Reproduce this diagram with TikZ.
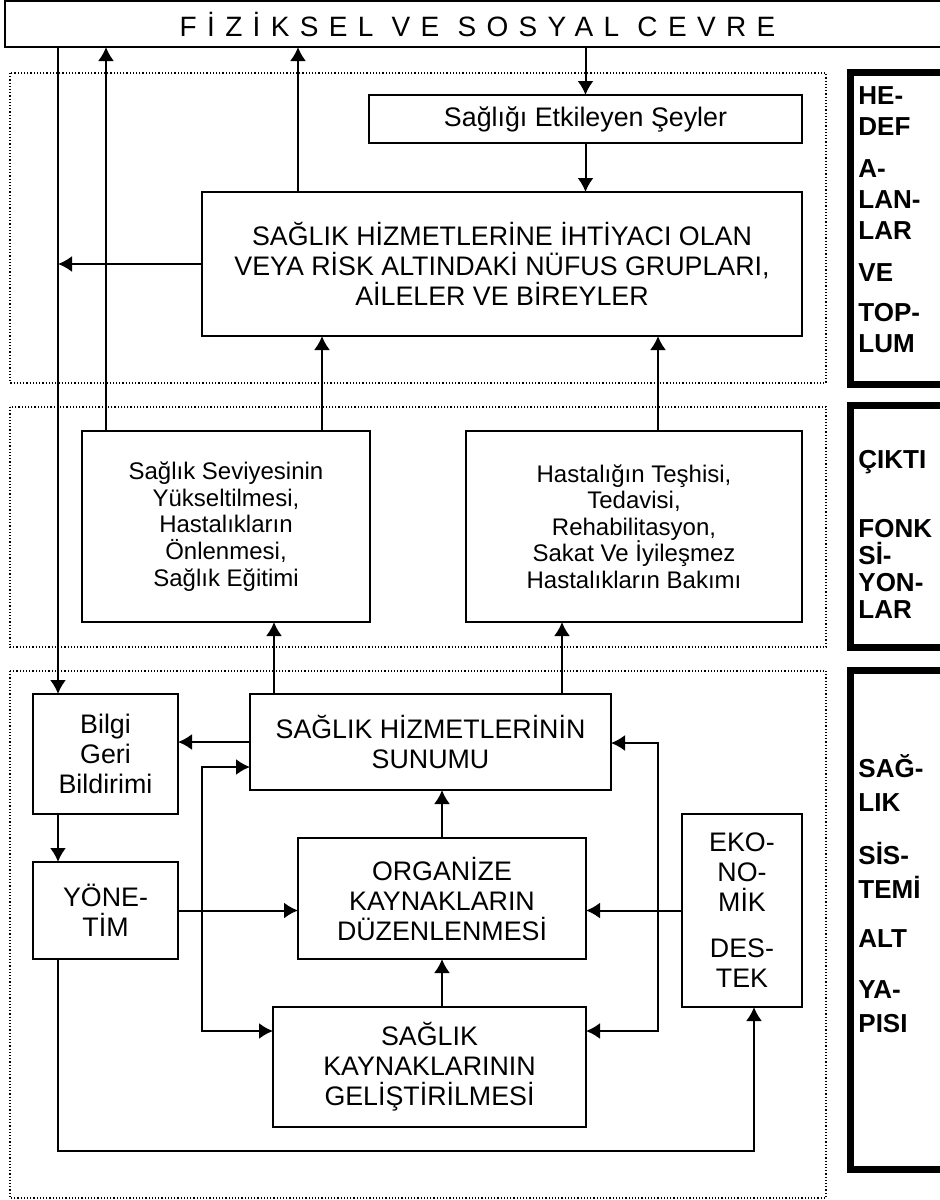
\documentclass[tikz,border=0pt]{standalone}
\usepackage{fontspec}
\setmainfont{Liberation Sans}
\newfontfamily\genis[LetterSpace=37]{Liberation Sans}
\usetikzlibrary{arrows.meta}

\tikzset{
  kutu/.style={draw, line width=1pt, inner sep=0pt, outer sep=0pt, align=center,
    font=\fontsize{13.4}{15}\selectfont},
  kucuk/.style={font=\fontsize{12}{13.3}\selectfont},
  ok/.style={line width=1pt, -{Latex[length=7pt,width=8pt]}},
  cift/.style={line width=1pt, {Latex[length=7pt,width=8pt]}-{Latex[length=7pt,width=8pt]}},
  bolge/.style={densely dotted, line width=0.6pt},
  etiket/.style={line width=3.5pt},
  yan/.style={anchor=north west, inner sep=0pt, align=left}
}

\begin{document}
\begin{tikzpicture}[x=0.5pt, y=-0.5pt]
\useasboundingbox (0,0) rectangle (940,1200);

\foreach \ust/\alt in {73/383, 407/647, 671/1198}
{
    \draw[bolge] (10,\ust) rectangle (826,\alt);
}
\foreach \ust/\alt in {72/384, 405/647, 670/1169}
{
    \draw[etiket] (850,\ust) rectangle (970,\alt);
}

\node[yan, font=\bfseries\fontsize{13}{15.5}\selectfont] (hedef) at (858,86)
  {HE-\\DEF\\[5.5pt]A-\\LAN-\\LAR\\[5.5pt]VE\\[4.5pt]TOP-\\LUM};
\node[yan, font=\bfseries\fontsize{13}{13.5}\selectfont] (cikti) at (858,450)
  {ÇIKTI\\[21pt]FONK\\Sİ-\\YON-\\LAR};
\node[yan, font=\bfseries\fontsize{13}{17}\selectfont] (altyapi) at (858,754)
  {SAĞ-\\LIK\\[9.5pt]SİS-\\TEMİ\\[7.5pt]ALT\\[8.5pt]YA-\\PISI};

\node[kutu, minimum width=472.5pt, minimum height=23pt] (cevre) at (477.5,24)
  {\genis\fontsize{14}{15}\selectfont FİZİKSEL VE SOSYAL CEVRE};
\node[kutu, minimum width=216.5pt, minimum height=24pt] (sag) at (585.5,119)
  {Sağlığı Etkileyen Şeyler};
\node[kutu, minimum width=300pt, minimum height=72pt] (nufus) at (502,264)
  {SAĞLIK HİZMETLERİNE İHTİYACI OLAN\\VEYA RİSK ALTINDAKİ NÜFUS GRUPLARI,\\AİLELER VE BİREYLER};
\node[kutu, kucuk, minimum width=144pt, minimum height=95.5pt] (seviye) at (226,526.5)
  {Sağlık Seviyesinin\\Yükseltilmesi,\\Hastalıkların\\Önlenmesi,\\Sağlık Eğitimi};
\node[kutu, kucuk, minimum width=168pt, minimum height=95.5pt] (teshis) at (634,526.5)
  {Hastalığın Teşhisi,\\Tedavisi,\\Rehabilitasyon,\\Sakat Ve İyileşmez\\Hastalıkların Bakımı};
\node[kutu, minimum width=72.5pt, minimum height=60pt] (bilgi) at (105.5,754)
  {Bilgi\\Geri\\Bildirimi};
\node[kutu, minimum width=180.5pt, minimum height=48pt] (sunum) at (430.5,742)
  {SAĞLIK HİZMETLERİNİN\\SUNUMU};
\node[kutu, minimum width=72.5pt, minimum height=48.5pt] (yonetim) at (105.5,910.5)
  {YÖNE-\\TİM};
\node[kutu, minimum width=144pt, minimum height=60.5pt] (organize) at (442,898.5)
  {ORGANİZE\\KAYNAKLARIN\\DÜZENLENMESİ};
\node[kutu, minimum width=60pt, minimum height=96.5pt] (ekonomi) at (742,910.5)
  {EKO-\\NO-\\MİK\\[8pt]DES-\\TEK};
\node[kutu, minimum width=156.5pt, minimum height=60pt] (gelis) at (429.5,1067)
  {SAĞLIK\\KAYNAKLARININ\\GELİŞTİRİLMESİ};

\coordinate (hA) at (58,0);
\coordinate (hB) at (106,0);
\coordinate (hC) at (298,0);
\coordinate (hD) at (322,0);
\coordinate (hE) at (658,0);
\coordinate (hF) at (274,0);
\coordinate (hG) at (562,0);
\coordinate (solUst) at (202,767);
\coordinate (solAlt) at (202,1031);
\coordinate (sagUst) at (658,743);
\coordinate (sagAlt) at (658,1031);
\coordinate (altSol) at (58,1151);
\coordinate (altSag) at (754,1151);

\draw[ok] (sag.north |- cevre.south) -- (sag.north);
\draw[ok] (sag.south) -- (sag.south |- nufus.north);
\draw[ok] (nufus.north -| hC) -- (cevre.south -| hC);
\draw[ok] (nufus.west) -- (nufus.west -| hA);
\draw[ok] (cevre.south -| hA) -- (bilgi.north -| hA);
\draw[ok] (seviye.north -| hB) -- (cevre.south -| hB);
\draw[ok] (seviye.north -| hD) -- (nufus.south -| hD);
\draw[ok] (teshis.north -| hE) -- (nufus.south -| hE);
\draw[ok] (sunum.north -| hF) -- (seviye.south -| hF);
\draw[ok] (sunum.north -| hG) -- (teshis.south -| hG);
\draw[ok] (sunum.west) -- (bilgi.east |- sunum.west);
\draw[ok] (bilgi.south -| hA) -- (yonetim.north -| hA);
\draw[ok] (yonetim.east) -- (organize.west |- yonetim.east);
\draw[ok] (ekonomi.west) -- (organize.east |- ekonomi.west);
\draw[ok] (organize.north) -- (sunum.south -| organize.north);
\draw[ok] (gelis.north -| organize.south) -- (organize.south);
\draw[cift] (sunum.west |- solUst) -- (solUst) -- (solAlt) -- (gelis.west |- solAlt);
\draw[cift] (sunum.east |- sagUst) -- (sagUst) -- (sagAlt) -- (gelis.east |- sagAlt);
\draw[ok] (yonetim.south -| altSol) -- (altSol) -- (altSag) -- (ekonomi.south -| altSag);

\end{tikzpicture}
\end{document}
